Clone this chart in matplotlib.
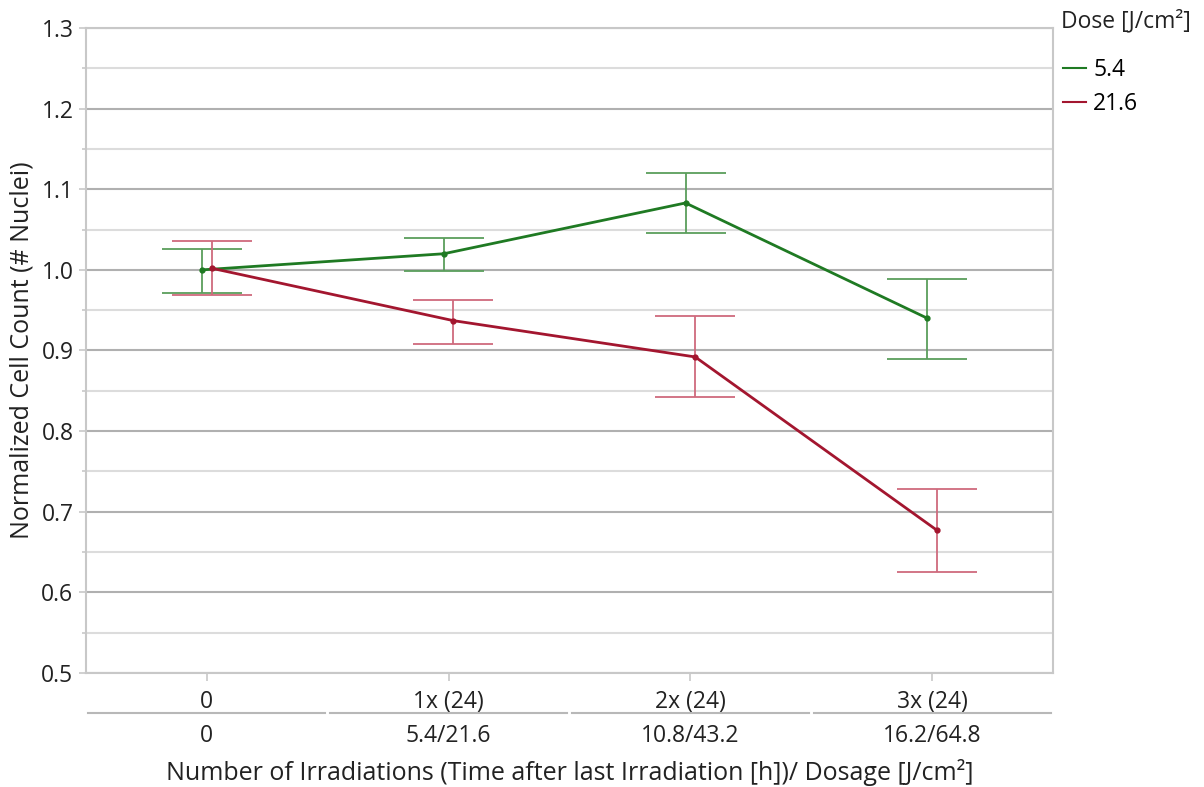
import matplotlib
matplotlib.use("Agg")
import matplotlib.pyplot as plt
import numpy as np

plt.rcParams['font.family'] = ['Open Sans', 'DejaVu Sans']

categories = ["0", "1x (24)", "2x (24)", "3x (24)"]
dosages = ["0", "5.4/21.6", "10.8/43.2", "16.2/64.8"]
series_names = ["5.4", "21.6"]

green_mean = [1.000, 1.020, 1.083, 0.940]
green_upper = [1.026, 1.040, 1.120, 0.989]
green_lower = [0.971, 0.998, 1.046, 0.890]

red_mean = [1.002, 0.937, 0.892, 0.677]
red_upper = [1.036, 0.963, 0.943, 0.728]
red_lower = [0.969, 0.908, 0.842, 0.625]

FS = 16.5
TC = "#222222"

fig = plt.figure(figsize=(12.04, 7.87), dpi=100)
ax = fig.add_axes([0.0714, 0.1449, 0.8032, 0.8195])

x = np.arange(len(categories))
offsets = [-0.02, 0.02]
series = [
    (green_mean, green_lower, green_upper, "#1f7a23", "#5a9e5c"),
    (red_mean, red_lower, red_upper, "#a3162f", "#cf6a7d"),
]

handles = []
for (m, lo, up, lc, ec), off, name in zip(series, offsets, series_names):
    m = np.array(m); lo = np.array(lo); up = np.array(up)
    xs = x + off
    ax.errorbar(xs, m, yerr=[m - lo, up - m], fmt='none', ecolor=ec,
                elinewidth=1.3, capsize=29, capthick=1.3, zorder=3)
    h, = ax.plot(xs, m, color=lc, lw=2, marker='o', ms=3.5, zorder=4, label=name)
    handles.append(h)

ax.set_xlim(-0.5, 3.5)
ax.set_ylim(0.5, 1.3)
yt = np.arange(0.5, 1.31, 0.1)
ax.set_yticks(yt)
ax.set_yticklabels([f"{v:.1f}" for v in yt], fontsize=FS, color=TC)
ax.set_yticks(np.arange(0.55, 1.3, 0.1), minor=True)
ax.grid(axis='y', which='major', color='#b0b0b0', lw=1.5, zorder=0)
ax.grid(axis='y', which='minor', color='#dcdcdc', lw=1.5, zorder=0)
ax.set_axisbelow(True)
for s in ax.spines.values():
    s.set_color('#c8c8c8')
    s.set_linewidth(1.5)
ax.tick_params(axis='y', which='major', length=5, color='#c8c8c8', width=1.2, pad=4)
ax.tick_params(axis='y', which='minor', length=3, color='#c8c8c8', width=1.2)
ax.set_xticks(x)
ax.set_xticklabels(categories, fontsize=FS, color=TC)
ax.tick_params(axis='x', length=6, color='#c8c8c8', width=1.2, pad=6)

# second level labels
for i, d in enumerate(dosages):
    ax.text(i, -0.097, d, transform=ax.get_xaxis_transform(), ha='center', va='center',
            fontsize=FS, color=TC)
    ax.plot([i - 0.49, i + 0.49], [-0.062, -0.062], transform=ax.get_xaxis_transform(),
            color='#b8b8b8', lw=1.5, clip_on=False)

ax.set_ylabel("Normalized Cell Count (# Nuclei)", fontsize=18, color=TC, labelpad=5)
ax.text(0.5, -0.155, "Number of Irradiations (Time after last Irradiation [h])/ Dosage [J/cm²]",
        transform=ax.transAxes, ha='center', va='center', fontsize=18, color=TC)

fig.text(0.881, 0.973, "Dose [J/cm²]", fontsize=FS, color=TC, ha='left', va='center')
leg = fig.legend(handles=handles, labels=series_names, loc='upper left',
                 bbox_to_anchor=(0.866, 0.953), frameon=False, fontsize=FS,
                 handlelength=1.0, handletextpad=0.3, labelspacing=0.45)
for h in leg.get_lines():
    h.set_marker('')
    h.set_linewidth(1.5)

fig.savefig("out.png", dpi=100)
